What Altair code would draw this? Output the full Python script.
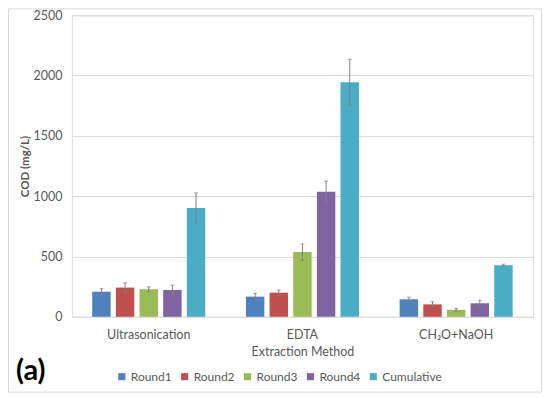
import altair as alt
import pandas as pd

methods = ["Ultrasonication", "EDTA", "CH₂O+NaOH"]
series = ["Round1", "Round2", "Round3", "Round4", "Cumulative"]
colors = ["#4F81BD", "#C0504D", "#9BBB59", "#8064A2", "#4BACC6"]

values = {
    "Round1":     [208, 167, 145],
    "Round2":     [242, 200, 103],
    "Round3":     [228, 537, 58],
    "Round4":     [222, 1037, 112],
    "Cumulative": [903, 1945, 428],
}
errors = {
    "Round1":     [25, 28, 17],
    "Round2":     [40, 22, 22],
    "Round3":     [20, 67, 12],
    "Round4":     [40, 88, 25],
    "Cumulative": [125, 190, 8],
}

rows = []
for s in series:
    for i, m in enumerate(methods):
        v = values[s][i]
        e = errors[s][i]
        rows.append({"Method": m, "Series": s, "COD": v, "lo": v - e, "hi": v + e})
df = pd.DataFrame(rows)

FONT = "Lato"
GRAY = "#595959"
yscale = alt.Scale(domain=[0, 2500], nice=False, zero=True)

x_enc = alt.X("Method:N", sort=methods, title="Extraction Method",
              scale=alt.Scale(paddingInner=0, paddingOuter=0),
              axis=alt.Axis(labelAngle=0, domain=False, ticks=False, labelPadding=12,
                            titlePadding=4, labelFontSize=12.5, titleFontSize=12.5,
                            labelColor=GRAY, titleColor=GRAY, labelFont=FONT,
                            titleFont=FONT, titleFontWeight="normal"))
xoff = alt.XOffset("Series:N", sort=series,
                   scale=alt.Scale(paddingInner=0.22, paddingOuter=0.86))

bars = alt.Chart(df).mark_bar().encode(
    x=x_enc,
    xOffset=xoff,
    y=alt.Y("COD:Q", title="COD (mg/L)", scale=yscale,
            axis=alt.Axis(values=[0, 500, 1000, 1500, 2000, 2500], format="d",
                          domain=False, ticks=False, labelPadding=10, gridColor="#D9D9D9",
                          labelFontSize=12.5, labelColor=GRAY, labelFont=FONT,
                          titleFontSize=11.5, titleFont=FONT, titleFontWeight="bold",
                          titleColor=GRAY, titlePadding=2)),
    color=alt.Color("Series:N", sort=series,
                    scale=alt.Scale(domain=series, range=colors),
                    legend=alt.Legend(title=None, orient="none", direction="horizontal",
                                      legendX=44, legendY=356, symbolType="square",
                                      symbolSize=50, labelFontSize=12, labelColor=GRAY,
                                      labelFont=FONT, columnPadding=7, labelOffset=3,
                                      symbolStrokeWidth=0)),
)

err = alt.Chart(df).mark_rule(color="#7F7F7F", strokeWidth=1).encode(
    x=alt.X("Method:N", sort=methods),
    xOffset=xoff,
    y=alt.Y("lo:Q", scale=yscale),
    y2="hi:Q",
)
cap_hi = alt.Chart(df).mark_tick(color="#7F7F7F", size=4, thickness=1).encode(
    x=alt.X("Method:N", sort=methods),
    xOffset=xoff,
    y=alt.Y("hi:Q", scale=yscale),
)
cap_lo = alt.Chart(df).mark_tick(color="#7F7F7F", size=4, thickness=1).encode(
    x=alt.X("Method:N", sort=methods),
    xOffset=xoff,
    y=alt.Y("lo:Q", scale=yscale),
)

label_df = pd.DataFrame({"t": ["(a)"]})
label = alt.Chart(label_df).mark_text(font=FONT, fontSize=29, fontWeight="bold",
                                      align="left", baseline="middle", color="black").encode(
    text="t:N", x=alt.value(-56), y=alt.value(356))

frame = alt.Chart(label_df).mark_rect(fill=None, stroke="#D9D9D9", strokeWidth=1,
                                      clip=False).encode(
    x=alt.value(-63.5), x2=alt.value(470.5), y=alt.value(-6.5), y2=alt.value(377.5))

chart = alt.layer(frame, bars, err, cap_hi, cap_lo, label).properties(
    width=462, height=302,
    padding={"left": 64, "top": 7, "right": 9, "bottom": 76},
    autosize=alt.AutoSizeParams(type="none"),
).configure_view(stroke=None).configure(background="white")

chart.save("out.html", embed_options={"renderer": "svg", "actions": False})
